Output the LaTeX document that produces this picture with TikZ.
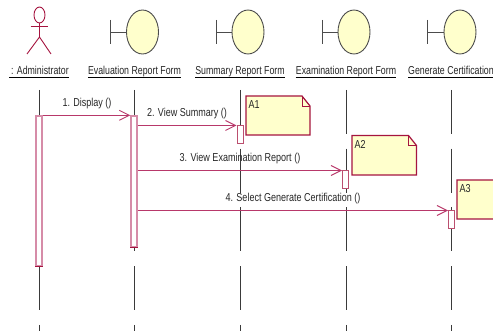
\documentclass[tikz,border=0pt]{standalone}
\usepackage{fontspec}
\usetikzlibrary{arrows.meta,shapes.geometric,calc}
\newfontfamily\narrowsans[FakeStretch=0.765]{Liberation Sans}
\newfontfamily\msgsans[FakeStretch=0.785]{Liberation Sans}
\definecolor{crim}{HTML}{A5143F}
\definecolor{msgc}{HTML}{B8386A}
\definecolor{actc}{HTML}{D68CA8}
\definecolor{notef}{HTML}{FFFFCC}
\definecolor{lifec}{HTML}{3A3A3A}
\tikzset{
  x=1pt,y=-1pt,
  headname/.style={inner sep=0pt,font=\narrowsans\fontsize{11.5}{13}\selectfont,text=black!85,text height=9.5pt,text depth=2.5pt,anchor=center},
  msglabel/.style={inner sep=0pt,font=\msgsans\fontsize{11.5}{13}\selectfont,text=black!85},
  notelabel/.style={inner sep=0pt,font=\msgsans\fontsize{11.5}{13}\selectfont,text=black!85,anchor=north west},
  ball/.style={ellipse,draw=black!70,fill=notef,line width=0.9pt,minimum width=32pt,minimum height=44pt,inner sep=0pt},
  bartick/.style={draw=black!70,line width=0.9pt},
  lifeline/.style={draw=lifec,line width=1pt,dash pattern=on 44pt off 14.7pt},
  activation/.style={rectangle,draw=actc,fill=white,line width=1.4pt,minimum width=6pt,inner sep=0pt},
  shortact/.style={rectangle,draw=crim!75,fill=white,line width=1pt,minimum width=6pt,minimum height=18pt,inner sep=0pt},
  msgline/.style={draw=msgc,line width=1.3pt,-{Straight Barb[length=10pt,width=10pt,line width=.9pt]}},
  notebox/.style={draw=crim,fill=notef,line width=1.2pt,line join=miter},
  actorline/.style={draw=crim,line width=.9pt},
}
\begin{document}
\begin{tikzpicture}
\useasboundingbox (0,0) rectangle (493,331);
% boundary heads
\foreach \n/\bx/\cx in {b/110.5/142.5,c/216.5/248,d/322.5/354,e/427.5/460}{
  \node[ball] (\n head) at (\cx,32) {};
  \coordinate (\n bar) at (\bx,32);
  \draw[bartick] (\bx,20) -- (\bx,44);
  \draw[bartick] (\n bar) -- (\n head.west);
}
% actor
\node[ellipse,draw=crim,line width=.9pt,minimum width=11pt,minimum height=16pt,inner sep=0pt] (ahead) at (39.5,15) {};
\coordinate (ahip) at (39.5,37);
\coordinate (aarmL) at (30.5,26);
\coordinate (aarmR) at (48,26);
\coordinate (alegL) at (27,54);
\coordinate (alegR) at (51,54);
\draw[actorline] (ahead.south) -- (ahip);
\draw[actorline] (aarmL) -- (aarmR);
\draw[actorline] (alegL) -- (ahip) -- (alegR);
% names
\node[headname] (aname) at (39,71) {\,: Administrator};
\node[headname] (bname) at (134.5,71) {Evaluation Report Form};
\node[headname] (cname) at (240,71) {Summary Report Form};
\node[headname] (dname) at (346,71) {Examination Report Form};
\node[headname,anchor=west] (ename) at (408,71) {Generate Certification};
\foreach \n in {a,b,c,d,e}{\draw[black,line width=.9pt] ($(\n name.south west)+(0,0.3)$) -- ($(\n name.south east)+(0,0.3)$);}
% lifelines
\foreach \n/\x in {a/39.5,b/134.5,c/240.5,d/346.5,e/451.5}{
  \coordinate (\n top) at (\x,90);
  \coordinate (\n bot) at (\x,331);
  \draw[lifeline] (\n top) -- (\n bot);
}
% activations
\node[activation,minimum height=150pt] (act1) at (39,191) {};
\node[activation,minimum height=131pt] (act2) at (134,181.5) {};
\node[shortact] (act3) at (240,135) {};
\node[shortact] (act4) at (345.5,180) {};
\node[shortact] (act5) at (451.5,220) {};
\draw[crim,line width=.8pt] (act1.south west) -- (act1.south east);
\draw[crim,line width=.8pt] (act2.south west) -- (act2.south east);
% messages
\draw[msgline] (act1.north east) -- (act2.north west);
\draw[msgline] (act2.east |- act3.north) -- (act3.north west);
\draw[msgline] (act2.east |- act4.north) -- (act4.north west);
\draw[msgline] (act2.east |- act5.north) -- (act5.north west);
\node[msglabel] (m1) at (87,103.5) {1. Display ()};
\node[msglabel] (m2) at (187,113.5) {2. View Summary ()};
\node[msglabel] (m3) at (240,158.5) {3. View Examination Report ()};
\node[msglabel] (m4) at (293,198.5) {4. Select Generate Certification ()};
% notes
\foreach \n/\l/\t/\r/\b/\txt in {n1/246/96/310/135/A1,n2/352/135.5/416.5/175/A2,n3/457/180/521/219/A3}{
  \draw[notebox] (\l,\t) -- ({\r-8},\t) -- (\r,{\t+10}) -- (\r,\b) -- (\l,\b) -- cycle;
  \draw[crim,line width=.8pt] ({\r-8},\t) -- ({\r-8},{\t+10}) -- (\r,{\t+10});
  \node[notelabel] (\n) at ({\l+2.5},{\t+4.5}) {\txt};
}
\end{tikzpicture}
\end{document}
